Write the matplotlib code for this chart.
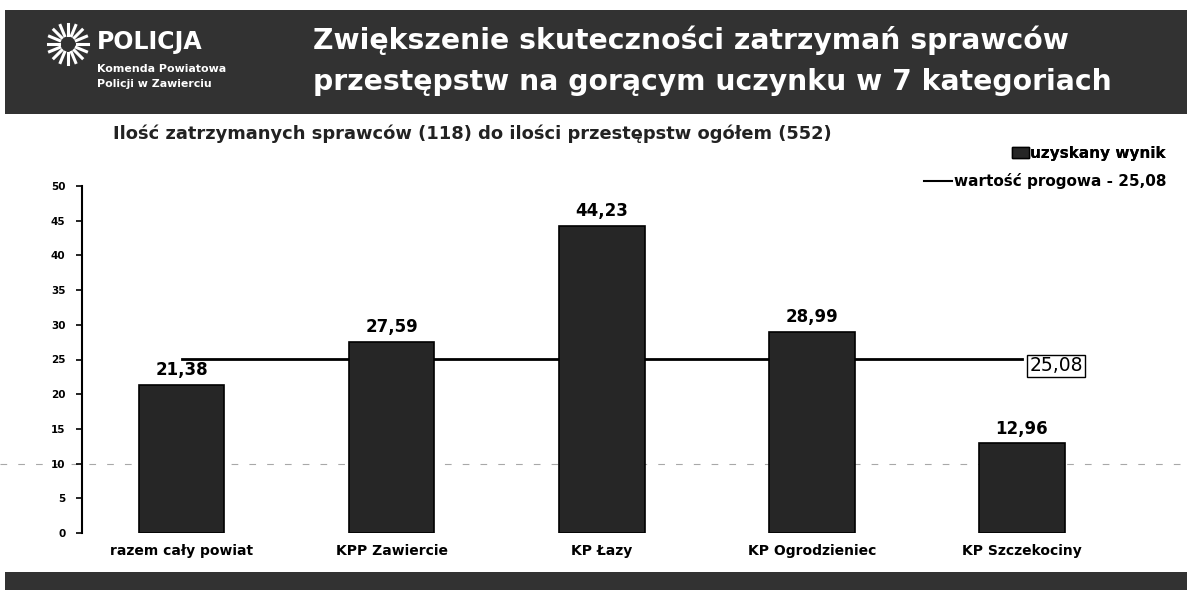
import matplotlib
matplotlib.use("Agg")
import matplotlib.pyplot as plt
from matplotlib.lines import Line2D
from matplotlib.patches import Rectangle
import numpy as np

plt.rcParams['font.family'] = ['DejaVu Sans']

# data
categories = ["razem cały powiat", "KPP Zawiercie", "KP Łazy", "KP Ogrodzieniec", "KP Szczekociny"]
values = [21.38, 27.59, 44.23, 28.99, 12.96]
threshold = 25.08
yticks = list(range(0, 51, 5))

title_lines = ["Zwiększenie skuteczności zatrzymań sprawców",
               "przestępstw na gorącym uczynku w 7 kategoriach"]
subtitle = "Ilość zatrzymanych sprawców (118) do ilości przestępstw ogółem (552)"
legend_labels = ["uzyskany wynik", "wartość progowa - 25,08"]

W, H = 1187, 590
fig = plt.figure(figsize=(W / 100, H / 100), dpi=100)
fig.patch.set_facecolor("white")

band = "#323232"
# header band and footer band
fig.add_artist(Rectangle((5 / W, 1 - 114 / H), 1 - 5 / W, 104 / H,
                         transform=fig.transFigure, facecolor=band, edgecolor="none"))
fig.add_artist(Rectangle((5 / W, 0), 1 - 5 / W, 18 / H,
                         transform=fig.transFigure, facecolor=band, edgecolor="none"))

# simple emblem: radial strokes round a centre
cx, cy = 68 / W, 1 - 44 / H
for ang in np.linspace(0, 2 * np.pi, 16, endpoint=False):
    r0, r1 = 9, 20
    fig.add_artist(Line2D([cx + r0 * np.cos(ang) / W, cx + r1 * np.cos(ang) / W],
                          [cy + r0 * np.sin(ang) / H, cy + r1 * np.sin(ang) / H],
                          transform=fig.transFigure, color="white", lw=2.2))

fig.text(97 / W, 1 - 42 / H, "POLICJA", color="white", fontsize=17, fontweight="bold",
         va="center", ha="left")
fig.text(97 / W, 1 - 69 / H, "Komenda Powiatowa", color="white", fontsize=7.9,
         fontweight="bold", va="center", ha="left")
fig.text(97 / W, 1 - 84 / H, "Policji w Zawierciu", color="white", fontsize=7.9,
         fontweight="bold", va="center", ha="left")

fig.text(313 / W, 1 - 40 / H, title_lines[0], color="white", fontsize=20.3,
         fontweight="bold", va="center", ha="left")
fig.text(313 / W, 1 - 82 / H, title_lines[1], color="white", fontsize=20.3,
         fontweight="bold", va="center", ha="left")

fig.text(113 / W, 1 - 134 / H, subtitle, color="#222222", fontsize=12.9,
         fontweight="bold", va="center", ha="left")

# faint scan artefact line
fig.add_artist(Line2D([0, 1], [1 - 464 / H, 1 - 464 / H], transform=fig.transFigure,
                      color="#a8a8a8", lw=0.8, ls=(0, (6, 10)), zorder=0))

ax = fig.add_axes([82 / W, 1 - 533 / H, 1045 / W, 347 / H])
x = np.arange(len(categories))
bars = ax.bar(x, values, width=0.405, color="#262626", edgecolor="black", linewidth=1.2,
              zorder=3)
ax.plot([x[0], x[-1]], [threshold, threshold], color="black", lw=2, zorder=2)

for xi, v in zip(x, values):
    ax.text(xi, v + 0.8, f"{v:.2f}".replace(".", ","), ha="center", va="bottom",
            fontsize=12, fontweight="bold")

ax.text(x[-1] + 0.035, threshold - 1.0, f"{threshold:.2f}".replace(".", ","), ha="left",
        va="center", fontsize=13.5, bbox=dict(facecolor="white", edgecolor="black",
                                             boxstyle="square,pad=0.1", lw=1))

ax.set_xlim(-0.476, 4.5)
ax.set_ylim(0, 50)
ax.set_yticks(yticks)
ax.set_yticklabels([str(t) for t in yticks], fontsize=7.5, fontweight="bold")
ax.set_xticks(x)
ax.set_xticklabels(categories, fontsize=10, fontweight="bold")
ax.tick_params(axis="x", length=0, pad=8)
ax.tick_params(axis="y", length=4, width=1.2, direction="out", pad=8)
for s in ["top", "right", "bottom"]:
    ax.spines[s].set_visible(False)
ax.spines["left"].set_linewidth(1.5)
ax.patch.set_alpha(0)

# legend rows, each right-aligned like the original
leg_kw = dict(loc="upper right", frameon=False, prop=dict(size=11, weight="bold"),
              handletextpad=0.1, borderpad=0, borderaxespad=0)
leg1 = fig.legend([Rectangle((0, 0), 1, 1, facecolor="#262626", edgecolor="black")],
                  [legend_labels[0]], bbox_to_anchor=(1166 / W, 1 - 146 / H),
                  handlelength=1.1, handleheight=0.7, **leg_kw)
fig.add_artist(leg1)
fig.legend([Line2D([0], [0], color="black", lw=1.5)], [legend_labels[1]],
           bbox_to_anchor=(1166 / W, 1 - 173 / H), handlelength=1.8, **leg_kw)

fig.savefig("out.png", dpi=100)
